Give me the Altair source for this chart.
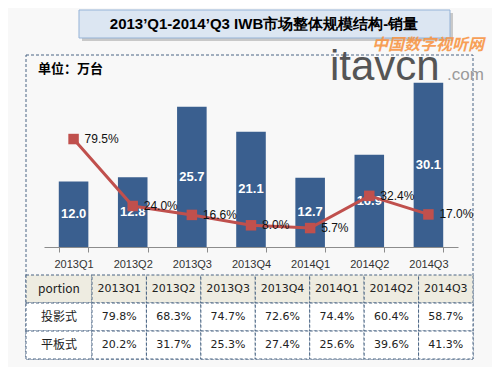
import altair as alt
import pandas as pd

quarters = ["2013Q1", "2013Q2", "2013Q3", "2013Q4", "2014Q1", "2014Q2", "2014Q3"]
sales = [12.0, 12.8, 25.7, 21.1, 12.7, 16.9, 30.1]
growth_pct = [79.5, 24.0, 16.6, 8.0, 5.7, 32.4, 17.0]
row_labels = ["portion", "投影式", "平板式"]
projector_share = ["79.8%", "68.3%", "74.7%", "72.6%", "74.4%", "60.4%", "58.7%"]
flat_share = ["20.2%", "31.7%", "25.3%", "27.4%", "25.6%", "39.6%", "41.3%"]
title_text = "2013’Q1-2014’Q3 IWB市场整体规模结构-销量"
unit_text = "单位：万台"

main = pd.DataFrame({
    "quarter": quarters,
    "sales": sales,
    "growth": [g / 100 for g in growth_pct],
})
main["sales_label"] = [f"{s:.1f}" for s in sales]
main["growth_label"] = [f"{g:.1f}%" for g in growth_pct]

cells = []
for q in quarters:
    cells.append({"row": "portion", "col": q, "text": q})
for q, v in zip(quarters, projector_share):
    cells.append({"row": "投影式", "col": q, "text": v})
for q, v in zip(quarters, flat_share):
    cells.append({"row": "平板式", "col": q, "text": v})
table = pd.DataFrame(cells)
first_col = pd.DataFrame({"row": row_labels})

W, H = 484, 359
BLUE = "#3A5F8F"
RED = "#C0504D"
DASH_COLOR = "#4A6584"

x_main = alt.Scale(domain=quarters, range=[36, 450], paddingInner=0.5, paddingOuter=0.25)
y_bar = alt.Scale(domain=[0, 35], range=[239, 48], nice=False, zero=False)
y_line = alt.Scale(domain=[-0.1, 1.5], range=[239, 46], nice=False, zero=False)
x_tab = alt.Scale(domain=quarters, range=[84, 465], paddingInner=0, paddingOuter=0)
y_tab = alt.Scale(domain=row_labels, range=[267, 351], paddingInner=0, paddingOuter=0)

one = pd.DataFrame({"t": [title_text], "u": [unit_text]})

# outer dashed frame
frame = alt.Chart(one).mark_rect(fillOpacity=0, stroke=DASH_COLOR, strokeDash=[3, 2], strokeWidth=1).encode(
    x=alt.value(18), x2=alt.value(465), y=alt.value(47), y2=alt.value(351)
)

# table
tab_rect = alt.Chart(table).mark_rect(stroke=DASH_COLOR, strokeDash=[3, 2], strokeWidth=1).encode(
    x=alt.X("col:N", scale=x_tab, axis=None),
    y=alt.Y("row:N", scale=y_tab, axis=None),
    fill=alt.condition(alt.datum.row == "portion", alt.value("#EEECE1"), alt.value("#FFFFFF")),
)
tab_first = alt.Chart(first_col).mark_rect(stroke=DASH_COLOR, strokeDash=[3, 2], strokeWidth=1).encode(
    x=alt.value(18), x2=alt.value(84),
    y=alt.Y("row:N", scale=y_tab, axis=None),
    fill=alt.condition(alt.datum.row == "portion", alt.value("#EEECE1"), alt.value("#FFFFFF")),
)
tab_text = alt.Chart(table).mark_text(font="DejaVu Sans", fontSize=11, color="#222222").encode(
    x=alt.X("col:N", scale=x_tab, axis=None),
    y=alt.Y("row:N", scale=y_tab, axis=None),
    text="text:N",
)
tab_first_text = alt.Chart(first_col).mark_text(font="Noto Sans CJK SC", fontSize=12, color="#222222").encode(
    x=alt.value(51),
    y=alt.Y("row:N", scale=y_tab, axis=None),
    text="row:N",
)

# bars
bars = alt.Chart(main).mark_bar(color=BLUE).encode(
    x=alt.X("quarter:N", scale=x_main, sort=quarters,
            axis=alt.Axis(title=None, orient="bottom", offset=-(H - 239), labelAngle=0,
                          labelFont="Arial", labelFontSize=11, labelColor="#333333",
                          domainColor="#8C8C8C", tickColor="#8C8C8C", tickSize=5,
                          tickBand="extent", labelPadding=6, grid=False)),
    y=alt.Y("sales:Q", scale=y_bar, axis=None),
)
bar_text = alt.Chart(main).mark_text(font="Arial", fontSize=13, fontWeight="bold", color="white").encode(
    x=alt.X("quarter:N", scale=x_main, sort=quarters, axis=None),
    y=alt.Y("mid:Q", scale=y_bar, axis=None),
    text="sales_label:N",
).transform_calculate(mid="datum.sales / 2")

# growth line
line = alt.Chart(main).mark_line(color=RED, strokeWidth=3).encode(
    x=alt.X("quarter:N", scale=x_main, sort=quarters, axis=None),
    y=alt.Y("growth:Q", scale=y_line, axis=None),
)
points = alt.Chart(main).mark_square(color=RED, size=110, opacity=1).encode(
    x=alt.X("quarter:N", scale=x_main, sort=quarters, axis=None),
    y=alt.Y("growth:Q", scale=y_line, axis=None),
)
line_text = alt.Chart(main).mark_text(font="Arial", fontSize=12, color="#111111", align="left", dx=11).encode(
    x=alt.X("quarter:N", scale=x_main, sort=quarters, axis=None),
    y=alt.Y("growth:Q", scale=y_line, axis=None),
    text="growth_label:N",
)

# title box
title_shadow = alt.Chart(one).mark_rect(fill="#AAAAAA", opacity=0.6).encode(
    x=alt.value(74), x2=alt.value(445), y=alt.value(5), y2=alt.value(33)
)
title_box = alt.Chart(one).mark_rect(fill="#DCE6F2", stroke="#95B3D7", strokeWidth=1).encode(
    x=alt.value(71), x2=alt.value(442), y=alt.value(2), y2=alt.value(30)
)
title = alt.Chart(one).mark_text(font="Liberation Sans", fontSize=15, fontWeight="bold", color="#000000").encode(
    x=alt.value(256), y=alt.value(16), text="t:N"
)
unit = alt.Chart(one).mark_text(font="Noto Sans CJK SC", fontSize=13, fontWeight="bold", color="#000000",
                                align="left").encode(
    x=alt.value(30), y=alt.value(61), text="u:N"
)

# watermark
wm1 = alt.Chart(one).mark_text(text="中国数字视听网", font="Noto Sans CJK SC", fontSize=16, fontWeight="bold",
                               fontStyle="italic", color="#F79646", align="left", opacity=0.9).encode(
    x=alt.value(364), y=alt.value(37)
)
wm2 = alt.Chart(one).mark_text(text="itavcn", font="Arial", fontSize=42, color="#555555", align="left",
                               baseline="alphabetic").encode(
    x=alt.value(322), y=alt.value(72)
)
wm3 = alt.Chart(one).mark_text(text=".com", font="Arial", fontSize=17, color="#9A9A9A", align="left",
                               baseline="alphabetic").encode(
    x=alt.value(439), y=alt.value(72)
)

chart = alt.layer(
    frame, tab_first, tab_rect, tab_text, tab_first_text,
    wm2, wm3,
    bars, bar_text, line, points, line_text,
    title_shadow, title_box, title, unit, wm1,
).resolve_scale(x="independent", y="independent").properties(
    width=W, height=H, autosize=alt.AutoSizeParams(type="none"), padding=0, background="#F8F8F8"
).configure_view(stroke=None)

chart.save("out.html", embed_options={"renderer": "svg", "actions": False})
